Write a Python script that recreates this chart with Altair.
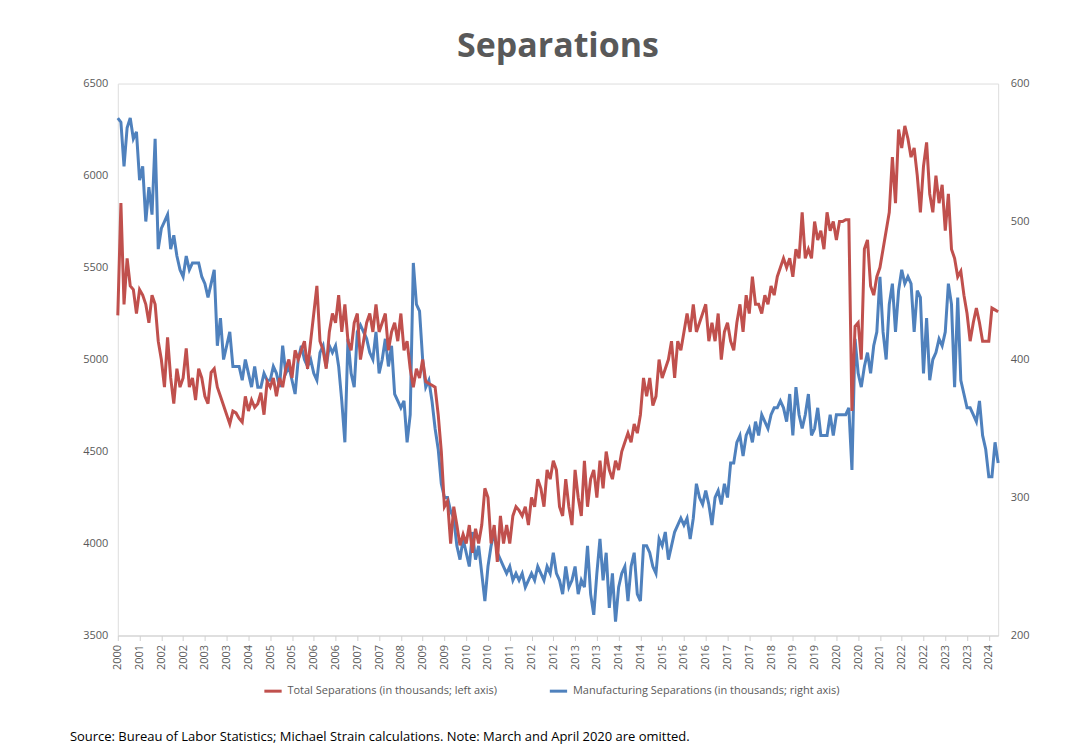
import altair as alt
import pandas as pd

# monthly values (thousands) from Dec 2000 on; Mar/Apr 2020 are omitted
TOTAL = [
    5240, 5850, 5300, 5550, 5400, 5380, 5250, 5380, 5350, 5300, 5200, 5350,
    5300, 5100, 5000, 4850, 5120, 4900, 4760, 4950, 4850, 4900, 5060, 4850,
    4900, 4780, 4950, 4900, 4800, 4760, 4930, 4950, 4850, 4800, 4750, 4700,
    4650, 4720, 4710, 4680, 4660, 4800, 4720, 4780, 4740, 4760, 4820,
    4700, 4880, 4850, 4900, 4800, 4900, 4850, 4950, 5000, 4900, 5050, 5000,
    5050, 5100, 4950, 5100, 5250, 5400, 5100, 5050, 4950, 5150, 5250,
    5200, 5350, 5150, 5300, 5100, 5050, 5200, 5250, 5000, 5100, 5200, 5250,
    5150, 5300, 5150, 5200, 5250, 5050, 5150, 5200, 5100, 5250, 5050, 5100,
    4950, 4850, 4950, 4900, 5000, 4880, 4870, 4860, 4850, 4700, 4500, 4200,
    4230, 4000, 4200, 4100, 3990, 4050, 4000, 4100, 3950, 4080, 4000, 4100,
    4300, 4250, 4000, 4100, 3900, 4150, 4000, 4100, 4000, 4150, 4200,
    4180, 4150, 4200, 4100, 4250, 4200, 4350, 4300, 4200, 4400, 4350,
    4450, 4400, 4200, 4150, 4350, 4200, 4100, 4400, 4250, 4150, 4450, 4200,
    4350, 4400, 4250, 4450, 4300, 4500, 4400, 4350, 4450, 4400, 4500, 4550,
    4600, 4550, 4650, 4600, 4700, 4900, 4800, 4900, 4750, 4800, 5000,
    4900, 4950, 5000, 5100, 4900, 5100, 5050, 5150, 5250, 5150, 5300, 5150,
    5200, 5250, 5300, 5100, 5200, 5100, 5250, 5000, 5150, 5200, 5100,
    5050, 5200, 5300, 5150, 5350, 5250, 5450, 5300, 5300, 5250, 5350, 5300,
    5400, 5350, 5450, 5500, 5550, 5500, 5550, 5450, 5600, 5550, 5800, 5550,
    5600, 5550, 5750, 5650, 5700, 5600, 5800, 5700, 5750, 5650, 5750, 5750,
    5760, 5760, 4720, 5180, 5200, 5000, 5600, 5650, 5400, 5350,
    5450, 5500, 5600, 5700, 5800, 6100, 5850, 6250, 6150, 6270, 6200, 6100,
    6150, 6000, 5800, 6050, 6180, 5900, 5800, 6000, 5850, 5950, 5700, 5900,
    5600, 5550, 5450, 5480, 5350, 5250, 5100, 5200, 5280, 5200, 5100, 5100,
    5100, 5280, 5270, 5260,
]
MANUF = [
    575, 572, 540, 568, 575, 560, 565, 530, 540, 500, 525, 505,
    560, 480, 495, 500, 505, 480, 490, 475, 465, 460, 475, 465,
    470, 470, 470, 460, 455, 445, 455, 465, 410, 430, 400, 410,
    420, 395, 395, 395, 385, 400, 390, 380, 395, 380, 380,
    390, 385, 385, 395, 390, 380, 410, 390, 395, 385, 375, 400,
    410, 400, 395, 400, 390, 385, 405, 410, 395, 410, 405,
    410, 395, 370, 340, 415, 390, 380, 420, 425, 420, 415, 405,
    400, 420, 390, 400, 415, 395, 410, 375, 370, 365, 370, 340,
    360, 470, 440, 435, 400, 380, 385, 370, 350, 335, 310, 300,
    300, 290, 285, 265, 255, 270, 260, 250, 275, 255, 265, 245,
    225, 250, 265, 275, 260, 255, 250, 245, 250, 240, 245,
    240, 245, 235, 240, 245, 240, 250, 245, 240, 250, 245,
    260, 245, 240, 230, 250, 235, 240, 250, 230, 240, 235, 265,
    230, 215, 245, 270, 240, 260, 220, 245, 210, 235, 245, 250,
    225, 250, 260, 230, 225, 265, 265, 260, 250, 245, 270,
    265, 275, 255, 265, 275, 280, 285, 280, 285, 270, 285, 310,
    300, 295, 305, 295, 280, 300, 305, 295, 310, 300, 325,
    325, 340, 345, 330, 345, 350, 340, 355, 345, 360, 355, 350,
    360, 365, 365, 370, 365, 355, 375, 345, 380, 360, 350, 360,
    375, 345, 350, 365, 345, 345, 345, 360, 345, 360, 360, 360,
    360, 365, 320, 415, 390, 380, 395, 405, 390, 410,
    420, 460, 420, 400, 440, 455, 420, 450, 465, 455, 460, 455,
    420, 450, 445, 390, 430, 385, 400, 405, 415, 410, 420, 455,
    440, 380, 445, 385, 375, 365, 365, 360, 355, 370, 345, 335,
    315, 315, 340, 325,
]
TOTAL_LABEL = "Total Separations (in thousands; left axis)"
MANUF_LABEL = "Manufacturing Separations (in thousands; right axis)"
SOURCE = "Source: Bureau of Labor Statistics; Michael Strain calculations. Note: March and April 2020 are omitted."

# category index -> year (index 0 = Dec 2000, two months skipped in 2020)
YEAR_EXPR = "2000 + floor((11 + datum.value + (datum.value > 230 ? 2 : 0)) / 12)"
N = len(TOTAL)

df = pd.concat([
    pd.DataFrame({"i": range(N), "value": TOTAL, "series": TOTAL_LABEL}),
    pd.DataFrame({"i": range(len(MANUF)), "value": MANUF, "series": MANUF_LABEL}),
])

gray = "#595959"
x = alt.X(
    "i:Q",
    scale=alt.Scale(domain=[0, N - 1], nice=False, zero=False),
    axis=alt.Axis(values=list(range(0, N, 7)), labelExpr=YEAR_EXPR, labelAngle=-90,
                  labelColor=gray, labelFontSize=11, domainColor="#d0d0d0", tickColor="#d0d0d0",
                  grid=False, title=None, labelPadding=4, labelFlush=False, labelOverlap=False),
)
color = alt.Color(
    "series:N",
    scale=alt.Scale(domain=[TOTAL_LABEL, MANUF_LABEL], range=["#c0504d", "#4f81bd"]),
    legend=alt.Legend(orient="none", legendX=145, legendY=598, direction="horizontal",
                      title=None, symbolType="stroke", symbolStrokeWidth=3, symbolSize=300,
                      labelColor=gray, labelFontSize=11, labelLimit=0, columnPadding=45),
)

left = alt.Chart(df).transform_filter(alt.datum.series == TOTAL_LABEL).mark_line(strokeWidth=3).encode(
    x=x,
    y=alt.Y("value:Q", scale=alt.Scale(domain=[3500, 6500]),
            axis=alt.Axis(values=list(range(3500, 7000, 500)), format="d", grid=False, domain=False,
                          ticks=False, labelColor=gray, labelFontSize=11, title=None, labelPadding=10)),
    color=color,
)
right = alt.Chart(df).transform_filter(alt.datum.series == MANUF_LABEL).mark_line(strokeWidth=3).encode(
    x=x,
    y=alt.Y("value:Q", scale=alt.Scale(domain=[200, 600]),
            axis=alt.Axis(orient="right", values=[200, 300, 400, 500, 600], format="d", grid=False,
                          domain=False, ticks=False, labelColor=gray, labelFontSize=11, title=None,
                          labelPadding=12)),
    color=color,
)
source = alt.Chart(pd.DataFrame({"t": [SOURCE]})).mark_text(
    align="left", fontSize=13, color="black", font="Open Sans"
).encode(text="t:N", x=alt.value(-48), y=alt.value(655))

chart = alt.layer(right, left, source).resolve_scale(y="independent").properties(
    width=882, height=553,
    autosize=alt.AutoSizeParams(type="none"),
    padding={"left": 110, "top": 75, "right": 80, "bottom": 110},
    title=alt.Title("Separations", fontSize=34, fontWeight="bold", color=gray, font="Open Sans", offset=14),
).configure_view(stroke="transparent").configure(font="Open Sans")

chart.save("out.html", embed_options={"renderer": "svg", "actions": False})
